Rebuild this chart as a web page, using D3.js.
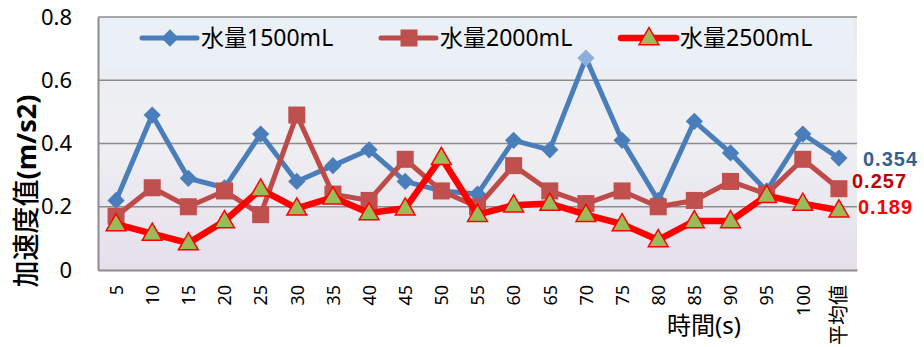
<!DOCTYPE html>
<html>
<head>
<meta charset="utf-8">
<script src="https://cdn.jsdelivr.net/npm/d3@7"></script>
<style>
  body { margin: 0; background: #fff; }
  text { font-family: "Noto Sans", "Noto Sans CJK JP", sans-serif; }
</style>
</head>
<body>
<script>
var categories = ["5","10","15","20","25","30","35","40","45","50","55","60","65","70","75","80","85","90","95","100","平均値"];

var water1500 = [0.22,0.49,0.29,0.26,0.43,0.28,0.33,0.38,0.28,0.25,0.24,0.41,0.38,0.67,0.41,0.22,0.47,0.37,0.25,0.43,0.354];
var water2000 = [0.17,0.26,0.20,0.25,0.175,0.49,0.24,0.22,0.35,0.25,0.20,0.33,0.25,0.21,0.25,0.20,0.22,0.28,0.24,0.35,0.257];
var water2500 = [0.145,0.115,0.085,0.155,0.255,0.195,0.23,0.18,0.195,0.355,0.175,0.205,0.21,0.175,0.145,0.095,0.155,0.155,0.235,0.21,0.189];

var seriesNames = ["水量1500mL", "水量2000mL", "水量2500mL"];
var averageLabels = ["0.354", "0.257", "0.189"];
var yTicks = [0, 0.2, 0.4, 0.6, 0.8];

var width  = 924;
var height = 347;

var svg = d3.select("body")
            .append("svg")
            .attr("width", width)
            .attr("height", height);

var plot = {left: 98, right: 857, top: 17, bottom: 270};

var x = d3.scalePoint().domain(categories).range([plot.left, plot.right]).padding(0.5);
var y = d3.scaleLinear().domain([0, 0.8]).range([plot.bottom, plot.top]);

// plot background
var defs = svg.append("defs");
var grad = defs.append("linearGradient")
               .attr("id", "bg")
               .attr("x1", 0).attr("y1", 0).attr("x2", 0).attr("y2", 1);
grad.append("stop").attr("offset", "0%").attr("stop-color", "#e6ebf3");
grad.append("stop").attr("offset", "45%").attr("stop-color", "#f0f0f3");
grad.append("stop").attr("offset", "100%").attr("stop-color", "#e5e0ec");

svg.append("rect")
   .attr("x", plot.left).attr("y", plot.top)
   .attr("width", plot.right - plot.left)
   .attr("height", plot.bottom - plot.top)
   .attr("fill", "url(#bg)");

// legend box (drawn inside plot area)
svg.append("rect")
   .attr("x", plot.left + 1).attr("y", plot.top + 1)
   .attr("width", plot.right - plot.left - 5)
   .attr("height", 50)
   .attr("fill", "#ebeff6");

// gridlines
svg.append("g")
   .selectAll("line")
   .data(yTicks.slice(1))
   .enter().append("line")
   .attr("x1", plot.left).attr("x2", plot.right)
   .attr("y1", function(d) { return y(d); })
   .attr("y2", function(d) { return y(d); })
   .attr("stroke", "#8c8c8c")
   .attr("stroke-width", 1.5);

// axes
var yAxis = svg.append("g")
   .attr("transform", "translate(" + plot.left + ",0)")
   .call(d3.axisLeft(y).tickValues(yTicks).tickSize(0).tickPadding(26)
           .tickFormat(function(d) { return d === 0 ? "0" : d3.format(".1f")(d); }));
yAxis.select(".domain").attr("stroke", "#8c8c8c").attr("stroke-width", 2);
yAxis.selectAll("text").attr("font-size", 22).attr("fill", "#000")
     .style("font-family", "'Noto Sans', sans-serif");

var xAxis = svg.append("g")
   .attr("transform", "translate(0," + plot.bottom + ")")
   .call(d3.axisBottom(x).tickSize(0));
xAxis.select(".domain").attr("stroke", "#8c8c8c").attr("stroke-width", 2);
xAxis.selectAll("text")
     .attr("font-size", function(d) { return d === "平均値" ? 20 : 18; })
     .attr("fill", "#000")
     .style("text-anchor", "end")
     .attr("transform", "rotate(-90)")
     .attr("x", -15)
     .attr("y", 0)
     .attr("dy", "0.35em");

// axis titles
var yTitle = svg.append("text")
   .attr("transform", "translate(36,191) rotate(-90)")
   .style("text-anchor", "middle")
   .attr("font-size", 27);
yTitle.append("tspan").attr("font-weight", 500).text("加速度值");
yTitle.append("tspan").attr("font-weight", "bold").text("(m/s2)");

svg.append("text")
   .attr("x", 704)
   .attr("y", 334)
   .style("text-anchor", "middle")
   .attr("font-size", 24)
   .text("時間(s)");

// series
var series = [
  {name: seriesNames[0], values: water1500, color: "#4a7ebb", width: 5, marker: "diamond"},
  {name: seriesNames[1], values: water2000, color: "#be4b48", width: 5, marker: "square"},
  {name: seriesNames[2], values: water2500, color: "#ff0000", width: 6.5, marker: "triangle"}
];

var symbols = {
  diamond:  d3.symbol().type(d3.symbolDiamond2).size(190),
  square:   d3.symbol().type(d3.symbolSquare).size(290),
  triangle: d3.symbol().type(d3.symbolTriangle).size(170)
};

function drawMarker(sel, s) {
  var m = sel.append("path").attr("d", symbols[s.marker]());
  if (s.marker === "diamond") {
    m.attr("fill", s.color);
  } else if (s.marker === "square") {
    m.attr("fill", "#c0504d");
  } else {
    m.attr("fill", "#9bbb59").attr("stroke", "#ff0000").attr("stroke-width", 1.5)
     .attr("transform", "translate(0,1)");
  }
  return m;
}

var line = d3.line()
             .x(function(d, i) { return x(categories[i]); })
             .y(function(d) { return y(d); });

series.forEach(function(s, k) {
  var g = svg.append("g");
  g.append("path")
   .datum(s.values)
   .attr("fill", "none")
   .attr("stroke", s.color)
   .attr("stroke-width", s.width)
   .attr("stroke-linejoin", "round")
   .attr("d", line);

  g.selectAll(".pt")
   .data(s.values)
   .enter().append("g")
   .attr("class", "pt")
   .attr("transform", function(d, i) { return "translate(" + x(categories[i]) + "," + y(d) + ")"; })
   .each(function(d, i) {
     var m = drawMarker(d3.select(this), s);
     if (k === 0 && categories[i] === "70") m.attr("fill", "#8eaedb");
   });
});

// legend
var legendX = [142, 381, 621];
series.forEach(function(s, k) {
  var lg = svg.append("g").attr("transform", "translate(" + legendX[k] + ",38)");
  lg.append("line")
    .attr("x1", 0).attr("x2", 55)
    .attr("stroke", s.color)
    .attr("stroke-width", s.width)
    .attr("stroke-linecap", "round");
  drawMarker(lg.append("g").attr("transform", "translate(28,0)"), s);
  lg.append("text")
    .attr("x", 59)
    .attr("y", 0)
    .attr("dy", "0.35em")
    .attr("font-size", 23)
    .attr("fill", "#000")
    .text(s.name);
});

// average labels at right
var avgColors = ["#376092", "#c00000", "#ff0000"];
var avgPos = [{x: 863, y: 166}, {x: 852, y: 188}, {x: 858, y: 214}];
averageLabels.forEach(function(t, k) {
  svg.append("text")
     .attr("x", avgPos[k].x)
     .attr("y", avgPos[k].y)
     .attr("font-size", 20)
     .attr("font-weight", "bold")
     .attr("letter-spacing", 1)
     .attr("fill", avgColors[k])
     .style("font-family", "'Liberation Sans', sans-serif")
     .text(t);
});
</script>
</body>
</html>
